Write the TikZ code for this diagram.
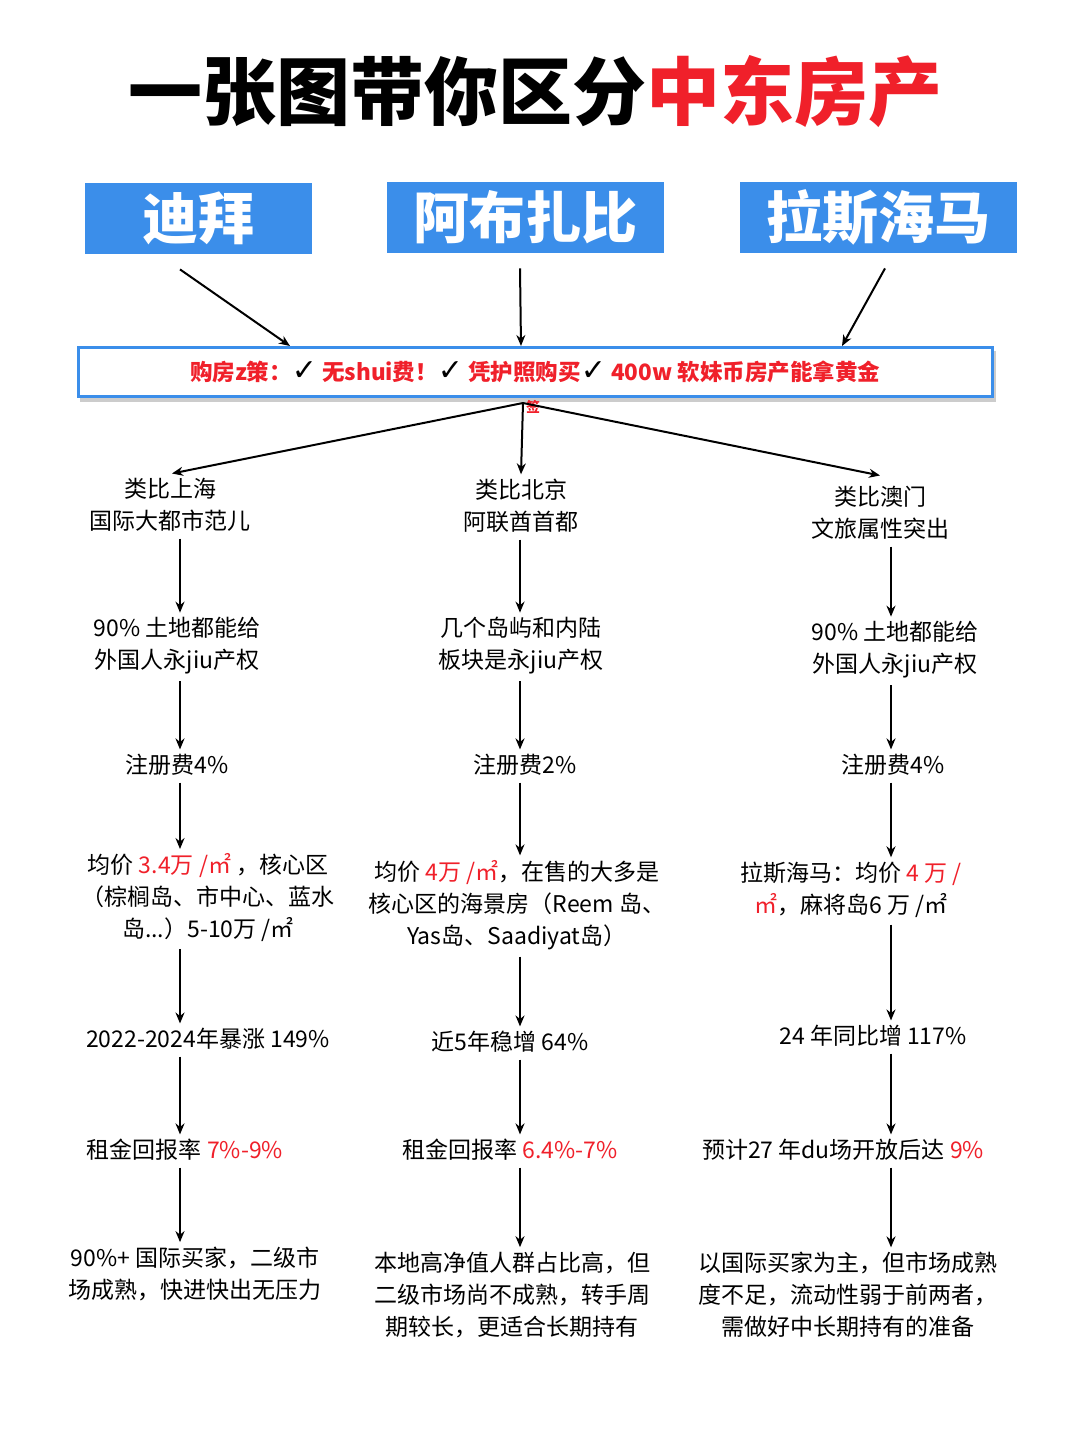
\documentclass[tikz,border=0pt]{standalone}
\usepackage{fontspec}
\setmainfont{Noto Sans CJK SC}
\newfontfamily\symfont{DejaVu Sans}
\usetikzlibrary{positioning,arrows.meta}
\definecolor{boxblue}{HTML}{3B8EEA}
\definecolor{hotred}{HTML}{F0202A}
\newcommand{\hl}[1]{\textcolor{hotred}{#1}}
\newcommand{\ck}{{\symfont\fontsize{30}{30}\selectfont\textcolor{black}{✓}}}
\begin{document}
\begin{tikzpicture}[%
        x = 1pt,
        y = -1pt,
        line width = 1.8pt,
        > = {Stealth[length = 11pt, width = 9pt]},
        every node/.style = {%
            font = \fontsize{23}{32}\selectfont,
            align = center,
            inner sep = 2pt
        },
        cityhead/.style = {%
            fill = boxblue,
            text = white,
            font = \fontsize{56}{60}\selectfont\bfseries,
            minimum height = 71pt
        },
        step arrow/.style = {%
            ->,
            draw = black,
            line width = 2pt
        }
    ]
        \useasboundingbox[fill = white] (0, 0) rectangle (1080, 1443);
        % title
        \node[font = \fontsize{74}{80}\selectfont\bfseries] (title) at (535, 92)
            {一张图带你区分\hl{中东房产}};
        % city headers
        \node[cityhead, minimum width = 227pt] (dubai) at (198, 218) {迪拜};
        \node[cityhead, minimum width = 277pt] (abu) at (525, 217) {阿布扎比};
        \node[cityhead, minimum width = 277pt] (ras) at (878, 217) {拉斯海马};
        % policy bar
        \fill[gray!40] (80, 351) rectangle (996, 402);
        \node[draw = boxblue, line width = 3pt, fill = white,
            minimum width = 914pt, minimum height = 49pt,
            text = hotred, font = \fontsize{22.5}{24}\selectfont\bfseries]
            (policy) at (535, 372)
            {购房z策：\ck\ 无shui费！\ck\ 凭护照购买\ck\ 400w 软妹币房产能拿黄金};
        \node[text = hotred, font = \fontsize{14}{14}\selectfont\bfseries] (tail) at (533, 407) {签};
        \coordinate (hub) at (523, 403);
        % column: dubai
        \node (d1) at (170, 505) {类比上海\\国际大都市范儿};
        \node (d2) at (177, 646) {90\% 土地都能给\\外国人永jiu产权};
        \node (d3) at (177, 765) {注册费4\%};
        \node (d4) at (208, 898) {均价 \hl{3.4万 /㎡} ，核心区\\（棕榈岛、市中心、蓝水\\岛...）5-10万 /㎡};
        \node (d5) at (208, 1039) {2022-2024年暴涨 149\%};
        \node (d6) at (185, 1150) {租金回报率 \hl{7\%-9\%}};
        \node (d7) at (195, 1274) {90\%+ 国际买家，二级市\\场成熟，快进快出无压力};
        % column: abu dhabi
        \node (a1) at (521, 506) {类比北京\\阿联酋首都};
        \node (a2) at (521, 646) {几个岛屿和内陆\\板块是永jiu产权};
        \node (a3) at (525, 765) {注册费2\%};
        \node (a4) at (517, 905) {均价 \hl{4万 /㎡}，在售的大多是\\核心区的海景房（Reem 岛、\\Yas岛、Saadiyat岛）};
        \node (a5) at (510, 1042) {近5年稳增 64\%};
        \node (a6) at (510, 1150) {租金回报率 \hl{6.4\%-7\%}};
        \node (a7) at (512, 1295) {本地高净值人群占比高，但\\二级市场尚不成熟，转手周\\期较长，更适合长期持有};
        % column: ras al khaimah
        \node (r1) at (880, 513) {类比澳门\\文旅属性突出};
        \node (r2) at (895, 650) {90\% 土地都能给\\外国人永jiu产权};
        \node (r3) at (893, 765) {注册费4\%};
        \node (r4) at (851, 890) {拉斯海马：均价 \hl{4 万 /}\\\hl{㎡}，麻将岛6 万 /㎡};
        \node (r5) at (873, 1036) {24 年同比增 117\%};
        \node (r6) at (843, 1150) {预计27 年du场开放后达 \hl{9\%}};
        \node (r7) at (848, 1295) {以国际买家为主，但市场成熟\\度不足，流动性弱于前两者，\\需做好中长期持有的准备};
        % arrows into the policy bar
        \draw[step arrow] ([xshift = -18pt, yshift = -15pt]dubai.south) -- ([xshift = -245pt]policy.north);
        \draw[step arrow] ([xshift = -5pt, yshift = -15pt]abu.south) -- ([xshift = -14pt]policy.north);
        \draw[step arrow] ([xshift = 7pt, yshift = -15pt]ras.south) -- ([xshift = 307pt]policy.north);
        % arrows out of the policy bar
        \draw[step arrow] (hub) -- ([xshift = 2pt, yshift = 2pt]d1.north);
        \draw[step arrow] (hub) -- ([yshift = 2pt]a1.north);
        \draw[step arrow] (hub) -- ([yshift = 8pt]r1.north);
        % vertical chains
        \coordinate (cold) at (180, 0);
        \coordinate (cola) at (520, 0);
        \coordinate (colr) at (891, 0);
        \foreach \col in {d, a, r} {
            \foreach \i/\j in {1/2, 2/3, 3/4, 4/5, 5/6, 6/7} {
                \draw[step arrow, shorten <= 4pt, shorten >= 2pt]
                    (\col\i.south -| col\col) -- (\col\j.north -| col\col);
            }
        }
    \end{tikzpicture}
\end{document}
